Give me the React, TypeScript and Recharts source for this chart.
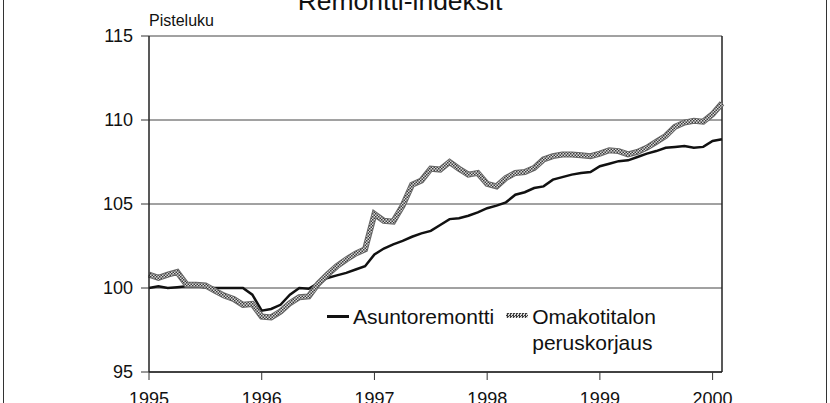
import { CartesianGrid, Legend, Line, LineChart, ReferenceLine, XAxis, YAxis } from "recharts";

const FONT = '"Liberation Sans", Arial, Helvetica, sans-serif';

// monthly index, 1995-01 .. 2000-02
const startYear = 1995;
const yearTicks = [1995, 1996, 1997, 1998, 1999, 2000];
const valueTicks = [95, 100, 105, 110, 115];

const asuntoremontti = [
  100.0, 100.1, 100.0, 100.05, 100.1, 100.1, 100.05, 100.0, 100.0, 100.0, 100.0, 99.6,
  98.65, 98.75, 99.0, 99.6, 100.0, 99.95, 100.3, 100.6, 100.75, 100.9, 101.1, 101.3,
  102.0, 102.35, 102.6, 102.8, 103.05, 103.25, 103.4, 103.75, 104.1, 104.15, 104.3, 104.5,
  104.75, 104.9, 105.1, 105.55, 105.7, 105.95, 106.05, 106.45, 106.6, 106.75, 106.85, 106.9,
  107.25, 107.4, 107.55, 107.6, 107.8, 108.0, 108.15, 108.35, 108.4, 108.45, 108.35, 108.4,
  108.75, 108.85
];

const omakotitalo = [
  100.8, 100.6, 100.8, 100.95, 100.2, 100.2, 100.15, 99.85, 99.55, 99.35, 99.0, 99.05,
  98.3, 98.25, 98.6, 99.1, 99.45, 99.5, 100.25, 100.8, 101.3, 101.7, 102.05, 102.3,
  104.4, 104.0, 103.95, 104.9, 106.15, 106.4, 107.1, 107.05, 107.5, 107.1, 106.75, 106.85,
  106.2, 106.05, 106.55, 106.85, 106.9, 107.15, 107.65, 107.85, 107.95, 107.95, 107.9, 107.85,
  108.0, 108.2, 108.15, 107.95, 108.1, 108.35, 108.7, 109.05, 109.6, 109.85, 109.95, 109.9,
  110.35, 111.0
];

const data = asuntoremontti.map((v, i) => ({
  t: startYear + i / 12,
  asunto: v,
  omakoti: omakotitalo[i]
}));

const xMax = startYear + (asuntoremontti.length - 1) / 12;

const checker = "repeating-conic-gradient(#3c3c3c 0 25%, #d9d9d9 0 50%) 0 0 / 3px 3px";

function LegendBox() {
  return (
    <div style={{ display: "flex", fontFamily: FONT, fontSize: 21, lineHeight: "26px", color: "#111" }}>
      <div style={{ display: "flex", alignItems: "flex-start" }}>
        <span style={{ width: 22, height: 2.5, background: "#111", marginTop: 11, marginRight: 4 }} />
        <span>Asuntoremontti</span>
      </div>
      <div style={{ display: "flex", alignItems: "flex-start", marginLeft: 12 }}>
        <span style={{ width: 22, height: 5, background: checker, marginTop: 9, marginRight: 4 }} />
        <span>
          Omakotitalon
          <br />
          peruskorjaus
        </span>
      </div>
    </div>
  );
}

export default function App() {
  return (
    <div style={{ position: "absolute", left: 0, top: 0, width: 830, height: 403, overflow: "hidden", background: "#fff" }}>
      <div
        style={{
          position: "absolute", left: 0, top: -12, width: 800, textAlign: "center",
          fontFamily: FONT, fontSize: 26.5, lineHeight: 1, color: "#111"
        }}
      >
        Remontti-indeksit
      </div>
      <div
        style={{
          position: "absolute", left: 149, top: 13, fontFamily: FONT, fontSize: 16, lineHeight: 1, color: "#111"
        }}
      >
        Pisteluku
      </div>
      <LineChart width={830} height={403} data={data} margin={{ top: 36, right: 108, bottom: 0, left: 89 }}>
        <defs>
          <pattern id="chk" width="3" height="3" patternUnits="userSpaceOnUse">
            <rect width="3" height="3" fill="#d9d9d9" />
            <rect width="1.5" height="1.5" fill="#3c3c3c" />
            <rect x="1.5" y="1.5" width="1.5" height="1.5" fill="#3c3c3c" />
          </pattern>
        </defs>
        <CartesianGrid horizontal vertical={false} stroke="#444" strokeWidth={1} />
        <XAxis
          type="number"
          dataKey="t"
          domain={[startYear, xMax]}
          ticks={yearTicks}
          interval={0}
          height={31}
          tickSize={8}
          tickMargin={12}
          axisLine={{ stroke: "#222", strokeWidth: 1.5 }}
          tickLine={{ stroke: "#333" }}
          tick={{ fontSize: 18, fill: "#111", fontFamily: FONT }}
        />
        <YAxis
          domain={[95, 115]}
          ticks={valueTicks}
          interval={0}
          width={60}
          tickSize={8}
          tickMargin={8}
          axisLine={{ stroke: "#222", strokeWidth: 1.5 }}
          tickLine={{ stroke: "#333" }}
          tick={{ fontSize: 18, fill: "#111", fontFamily: FONT }}
        />
        <ReferenceLine x={xMax} stroke="#222" strokeWidth={1.5} />
        <Legend
          layout="vertical"
          align="center"
          verticalAlign="middle"
          content={() => <LegendBox />}
          wrapperStyle={{ top: 304, left: 327, width: "auto", height: "auto" }}
        />
        <Line
          type="linear"
          dataKey="asunto"
          name="Asuntoremontti"
          stroke="#111"
          strokeWidth={2.5}
          dot={false}
          activeDot={false}
          isAnimationActive={false}
        />
        <Line
          type="linear"
          dataKey="omakoti"
          name="Omakotitalon peruskorjaus"
          stroke="#666"
          strokeWidth={6}
          dot={false}
          activeDot={false}
          legendType="none"
          isAnimationActive={false}
        />
        <Line
          type="linear"
          dataKey="omakoti"
          name="Omakotitalon peruskorjaus"
          stroke="url(#chk)"
          strokeWidth={4}
          dot={false}
          activeDot={false}
          isAnimationActive={false}
        />
      </LineChart>
      <div
        style={{
          position: "absolute", left: 3, top: -5, width: 822, height: 430,
          border: "1.5px solid #333", pointerEvents: "none"
        }}
      />
    </div>
  );
}
